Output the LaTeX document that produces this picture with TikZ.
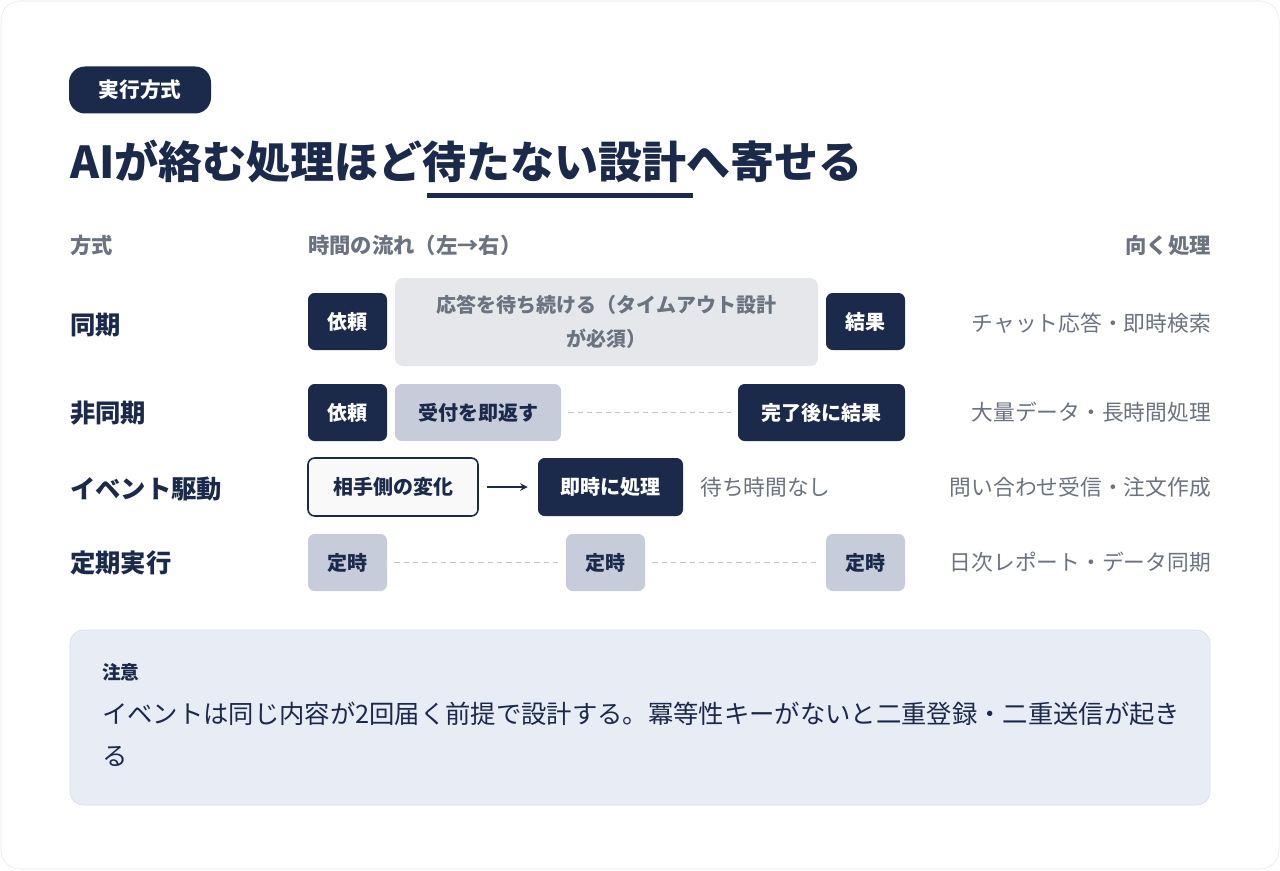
\documentclass[tikz,border=0pt]{standalone}
\usepackage{fontspec}
\setmainfont{Noto Sans CJK JP}
\begin{document}
\definecolor{navy}{HTML}{1B2A4A}
\definecolor{gtxt}{HTML}{6B7280}
\definecolor{lgray}{HTML}{E5E7EB}
\definecolor{mgray}{HTML}{C6CCDA}
\definecolor{notef}{HTML}{E8ECF4}
\definecolor{noted}{HTML}{D5DBE6}
\definecolor{dashc}{HTML}{BFC5D2}
\begin{tikzpicture}[x=0.75pt,y=-0.75pt,
  dk/.style={fill=navy,rounded corners=5pt,text=white,font=\fontsize{15}{17}\selectfont\bfseries},
  mg/.style={fill=mgray,rounded corners=5pt,text=navy,font=\fontsize{15}{17}\selectfont\bfseries},
  lab/.style={anchor=west,inner sep=0,text=navy,font=\fontsize{19}{21}\selectfont\bfseries},
  rt/.style={anchor=east,inner sep=0,text=gtxt,font=\fontsize{16.3}{18}\selectfont},
  hd/.style={inner sep=0,text=gtxt,font=\fontsize{16}{18}\selectfont\bfseries},
  dl/.style={draw=dashc,dash pattern=on 4pt off 3pt,line width=1.3pt}]
\useasboundingbox (0,0) rectangle (1280,870);
\draw[fill=white,draw=lgray,rounded corners=14pt] (1,1) rectangle (1279,869);
\node[dk,rounded corners=12pt,minimum width=142*0.75pt,minimum height=47*0.75pt,font=\fontsize{15.5}{17}\selectfont\bfseries] (pill) at (140,90) {実行方式};
\node[anchor=base west,inner sep=0,text=navy,font=\fontsize{33}{36}\selectfont\bfseries] (title) at (70,178) {AIが絡む処理ほど待たない設計へ寄せる};
\fill[navy] (427,193) rectangle (693,198);
\node[hd,anchor=west] (h1) at (70,245) {方式};
\node[hd,anchor=west] (h2) at (308,245) {時間の流れ（左→右）};
\node[hd,anchor=east] (h3) at (1211,245) {向く処理};
% row 1
\node[lab] (l1) at (70,325) {同期};
\node[dk,minimum width=79*0.75pt,minimum height=57*0.75pt] (a1) at (347.5,321.5) {依頼};
\node[fill=lgray,rounded corners=6pt,minimum width=423*0.75pt,minimum height=88*0.75pt,text=gtxt,align=center,font=\fontsize{15}{25}\selectfont\bfseries] (w1) at (606.5,322) {応答を待ち続ける（タイムアウト設計\\が必須）};
\node[dk,minimum width=79*0.75pt,minimum height=57*0.75pt] (r1) at (865.5,321.5) {結果};
\node[rt] (t1) at (1211,323) {チャット応答・即時検索};
% row 2
\node[lab] (l2) at (70,413) {非同期};
\node[dk,minimum width=79*0.75pt,minimum height=57*0.75pt] (a2) at (347.5,412.5) {依頼};
\node[mg,minimum width=166*0.75pt,minimum height=57*0.75pt] (b2) at (478,412.5) {受付を即返す};
\node[dk,minimum width=167*0.75pt,minimum height=57*0.75pt] (r2) at (821.5,412.5) {完了後に結果};
\draw[dl] ([xshift=7*0.75pt]b2.east) -- ([xshift=-7*0.75pt]r2.west);
\node[rt] (t2) at (1211,412) {大量データ・長時間処理};
% row 3
\node[lab] (l3) at (70,489) {イベント駆動};
\node[draw=navy,line width=1.2pt,fill=gray!5,rounded corners=5pt,minimum width=170*0.75pt,minimum height=58*0.75pt,text=navy,font=\fontsize{15}{17}\selectfont\bfseries] (c3) at (393,487) {相手側の変化};
\node[dk,minimum width=145*0.75pt,minimum height=58*0.75pt] (p3) at (610.5,487) {即時に処理};
\draw[navy,line width=1.5pt,-stealth] ([xshift=8*0.75pt]c3.east) -- ([xshift=-10*0.75pt]p3.west);
\node[anchor=west,inner sep=0,text=gtxt,font=\fontsize{16.3}{18}\selectfont] (n3) at (700,487) {待ち時間なし};
\node[rt] (t3) at (1211,487) {問い合わせ受信・注文作成};
% row 4
\node[lab] (l4) at (70,563) {定期実行};
\node[mg,minimum width=79*0.75pt,minimum height=57*0.75pt] (s1) at (347.5,562.5) {定時};
\node[mg,minimum width=79*0.75pt,minimum height=57*0.75pt] (s2) at (605.5,562.5) {定時};
\node[mg,minimum width=79*0.75pt,minimum height=57*0.75pt] (s3) at (865.5,562.5) {定時};
\draw[dl] ([xshift=7*0.75pt]s1.east) -- ([xshift=-7*0.75pt]s2.west);
\draw[dl] ([xshift=7*0.75pt]s2.east) -- ([xshift=-7*0.75pt]s3.west);
\node[rt] (t4) at (1211,562) {日次レポート・データ同期};
% note
\draw[fill=notef,draw=noted,rounded corners=10pt] (70,630) rectangle (1210,805);
\node[anchor=west,inner sep=0,text=navy,font=\fontsize{14}{16}\selectfont\bfseries] (nt) at (102,672) {注意};
\node[anchor=north west,inner sep=0,text=navy,align=left,font=\fontsize{19}{31.5}\selectfont] (nb) at (102,702) {イベントは同じ内容が2回届く前提で設計する。冪等性キーがないと二重登録・二重送信が起き\\る};
\end{tikzpicture}
\end{document}
